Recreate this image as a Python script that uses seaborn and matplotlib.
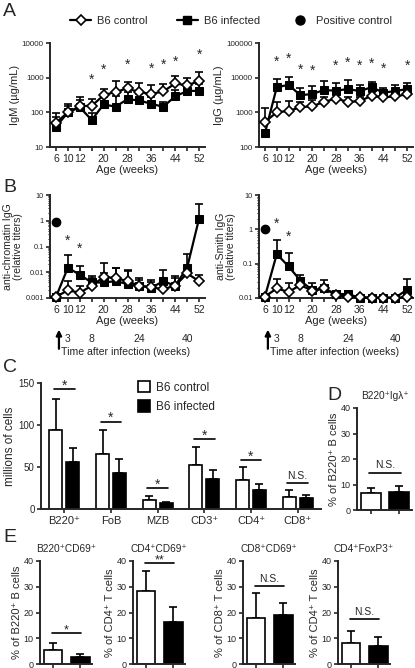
import numpy as np
import pandas as pd
import matplotlib
matplotlib.use("Agg")
import matplotlib.pyplot as plt
from matplotlib.lines import Line2D
from matplotlib.patches import Patch
from matplotlib.ticker import LogLocator, NullFormatter
import seaborn as sns

# ---- data ----
ages = [6, 10, 12, 16, 20, 24, 28, 32, 36, 40, 44, 48, 52]
age_labels = ["6", "10", "12", "", "20", "", "28", "", "36", "", "44", "", "52"]

igm_ctrl = [50, 100, 150, 155, 310, 390, 490, 380, 340, 400, 680, 600, 800]
igm_ctrl_hi = [95, 170, 270, 240, 480, 780, 760, 680, 600, 650, 1150, 1000, 1450]
igm_inf = [38, 100, 140, 60, 170, 145, 240, 220, 175, 145, 290, 410, 420]
igm_inf_hi = [75, 150, 230, 95, 280, 300, 380, 330, 280, 200, 450, 600, 650]
igm_star_idx = [3, 4, 6, 8, 9, 10, 12]
igm_star_y = [850, 1650, 2300, 1850, 2300, 2900, 4600]

igg_ctrl = [530, 1000, 1100, 1400, 1500, 2000, 2500, 2000, 2100, 3000, 2700, 2900, 3300]
igg_ctrl_hi = [1350, 2000, 2100, 2000, 2200, 2800, 3500, 2800, 2800, 3800, 3400, 3700, 4200]
igg_inf = [250, 5300, 6200, 3100, 3400, 4400, 4200, 4700, 4100, 5300, 3700, 4100, 4700]
igg_inf_hi = [250, 9000, 10500, 5000, 5600, 8000, 7100, 8700, 6200, 7300, 5000, 6200, 6800]
igg_star_idx = [1, 2, 3, 4, 6, 7, 8, 9, 10, 12]
igg_star_y = [29000, 35000, 16500, 16000, 22000, 26000, 22000, 25000, 17500, 22000]

chr_ctrl = [0.0011, 0.002, 0.0016, 0.003, 0.0065, 0.006, 0.0045, 0.003, 0.0026, 0.0022, 0.003, 0.009, 0.0045]
chr_ctrl_hi = [0.0011, 0.0045, 0.003, 0.006, 0.022, 0.014, 0.011, 0.005, 0.004, 0.004, 0.006, 0.012, 0.008]
chr_inf = [0.0011, 0.015, 0.008, 0.004, 0.004, 0.0045, 0.0035, 0.003, 0.0025, 0.0045, 0.003, 0.015, 1.2]
chr_inf_hi = [0.0011, 0.045, 0.018, 0.007, 0.009, 0.015, 0.012, 0.006, 0.005, 0.012, 0.007, 0.05, 4.5]
chr_star_idx = [1, 2]
chr_star_y = [0.17, 0.085]
chr_pos = 0.9

sm_ctrl = [0.011, 0.019, 0.015, 0.024, 0.016, 0.019, 0.012, 0.011, 0.0105, 0.0102, 0.0102, 0.0102, 0.0105]
sm_ctrl_hi = [0.011, 0.036, 0.027, 0.035, 0.016, 0.019, 0.012, 0.011, 0.0105, 0.0102, 0.0102, 0.0102, 0.0105]
sm_inf = [0.011, 0.19, 0.083, 0.032, 0.017, 0.019, 0.013, 0.013, 0.0102, 0.0102, 0.0102, 0.0102, 0.0175]
sm_inf_hi = [0.011, 0.5, 0.2, 0.048, 0.027, 0.034, 0.016, 0.016, 0.0102, 0.0102, 0.0102, 0.0102, 0.036]
sm_star_idx = [1, 2]
sm_star_y = [1.45, 0.62]
sm_pos = 1.0

time_idx = [1, 3, 7, 11]
time_labels = ["3", "8", "24", "40"]

cells = ["B220⁺", "FoB", "MZB", "CD3⁺", "CD4⁺", "CD8⁺"]
c_ctrl = [94, 66, 11, 52, 35, 14]
c_ctrl_hi = [131, 94, 16, 74, 50, 23]
c_inf = [56, 43, 7, 36, 23, 13]
c_inf_hi = [73, 59, 8, 47, 30, 17]
c_sig = ["*", "*", "*", "*", "*", "N.S."]
c_sig_y = [143, 104, 25, 83, 58, 31]

groups = ["B6 control", "B6 infected"]
pal = {"B6 control": "white", "B6 infected": "black"}

d_title = "B220⁺Igλ⁺"
d_ylabel = "% of B220⁺ B cells"
d_vals = [6.6, 7.2]
d_hi = [8.8, 9.6]
d_sig, d_sig_y = "N.S.", 14.7

e_titles = ["B220⁺CD69⁺", "CD4⁺CD69⁺", "CD8⁺CD69⁺", "CD4⁺FoxP3⁺"]
e_ylabels = ["% of B220⁺ B cells", "% of CD4⁺ T cells", "% of CD8⁺ T cells", "% of CD4⁺ T cells"]
e_vals = [[5.5, 2.8], [28.5, 16.5], [17.9, 19.2], [8.3, 7.0]]
e_hi = [[8.3, 3.8], [36.3, 22.2], [27.7, 23.6], [12.8, 10.3]]
e_sig = ["*", "**", "N.S.", "N.S."]
e_sig_y = [11.9, 39.4, 30.2, 17.4]

# ---- style ----
sns.set_theme(style="ticks")
plt.rcParams["font.family"] = ["Liberation Sans", "DejaVu Sans"]
plt.rcParams["axes.linewidth"] = 1.4
plt.rcParams["xtick.major.width"] = 1.2
plt.rcParams["ytick.major.width"] = 1.2
plt.rcParams["xtick.major.size"] = 3
plt.rcParams["ytick.major.size"] = 3
plt.rcParams["xtick.major.pad"] = 2
plt.rcParams["ytick.major.pad"] = 1.5

W, H = 415, 668
fig = plt.figure(figsize=(W / 100, H / 100), dpi=100)


def px_axes(x0, x1, y0, y1):
    return fig.add_axes([x0 / W, 1 - y1 / H, (x1 - x0) / W, (y1 - y0) / H])


def letter(x, y, s):
    fig.text(x / W, 1 - y / H, s, fontsize=14, ha="left", va="center")


def time_panel(ax, ctrl, ctrl_hi, inf, inf_hi, star_idx, star_y, ylim, ylabel, pos=None):
    x = np.arange(len(ages))
    ctrl = np.array(ctrl); inf = np.array(inf)
    ax.errorbar(x, inf, yerr=[np.zeros(len(x)), np.array(inf_hi) - inf], fmt="none",
                ecolor="black", elinewidth=1.2, capsize=3.2, capthick=1.2, zorder=2, clip_on=False)
    ax.errorbar(x, ctrl, yerr=[np.zeros(len(x)), np.array(ctrl_hi) - ctrl], fmt="none",
                ecolor="black", elinewidth=1.2, capsize=3.2, capthick=1.2, zorder=2, clip_on=False)
    sns.lineplot(x=x, y=inf, ax=ax, color="black", marker="s", markersize=5.5, linewidth=1.6,
                 markeredgecolor="black", zorder=3, clip_on=False)
    sns.lineplot(x=x, y=ctrl, ax=ax, color="black", marker="D", markersize=5, linewidth=1.6,
                 markerfacecolor="white", markeredgecolor="black", markeredgewidth=1.2,
                 zorder=4, clip_on=False)
    if pos is not None:
        ax.plot([0], [pos], "o", color="black", markersize=6, zorder=5)
    for i, yv in zip(star_idx, star_y):
        ax.text(i, yv, "*", ha="center", va="center", fontsize=10)
    ax.set_yscale("log")
    ax.set_ylim(*ylim)
    ax.set_xlim(-0.5, 12.5)
    ax.set_xticks(x)
    ax.set_xticklabels(age_labels, fontsize=7.5)
    ax.tick_params(axis="y", labelsize=5.8)
    ax.set_xlabel("Age (weeks)", fontsize=8, labelpad=1)
    ax.set_ylabel(ylabel, fontsize=8, labelpad=1.5, linespacing=1.05)
    sns.despine(ax=ax)


# ---- A ----
axA1 = px_axes(50, 205, 43, 147)
time_panel(axA1, igm_ctrl, igm_ctrl_hi, igm_inf, igm_inf_hi, igm_star_idx, igm_star_y,
           (10, 10000), "IgM (µg/mL)")
axA1.set_yticks([10, 100, 1000, 10000])
axA1.set_yticklabels(["10", "100", "1000", "10000"])
axA1.yaxis.set_minor_locator(plt.NullLocator())

axA2 = px_axes(259, 413, 43, 147)
time_panel(axA2, igg_ctrl, igg_ctrl_hi, igg_inf, igg_inf_hi, igg_star_idx, igg_star_y,
           (100, 100000), "IgG (µg/mL)")
axA2.set_yticks([100, 1000, 10000, 100000])
axA2.set_yticklabels(["100", "1000", "10000", "100000"])
axA2.yaxis.set_minor_locator(plt.NullLocator())

handles = [
    Line2D([0], [0], color="black", lw=1.6, marker="D", markersize=5,
           markerfacecolor="white", markeredgecolor="black", markeredgewidth=1.2),
    Line2D([0], [0], color="black", lw=1.6, marker="s", markersize=5.5),
    Line2D([0], [0], color="black", lw=0, marker="o", markersize=6.5),
]
fig.legend(handles, ["B6 control", "B6 infected", "Positive control"], loc="center",
           bbox_to_anchor=(0.557, 1 - 21 / H), ncol=3, frameon=False, fontsize=8,
           handlelength=1.9, columnspacing=2.6, handletextpad=0.55)

# ---- B ----
axB1 = px_axes(50, 205, 195, 298)
time_panel(axB1, chr_ctrl, chr_ctrl_hi, chr_inf, chr_inf_hi, chr_star_idx, chr_star_y,
           (0.001, 10), "anti-chromatin IgG\n(relative titers)", pos=chr_pos)
axB1.set_yticks([0.001, 0.01, 0.1, 1, 10])
axB1.set_yticklabels(["0.001", "0.01", "0.1", "1", "10"])

axB2 = px_axes(259, 413, 195, 298)
time_panel(axB2, sm_ctrl, sm_ctrl_hi, sm_inf, sm_inf_hi, sm_star_idx, sm_star_y,
           (0.01, 10), "anti-Smith IgG\n(relative titers)", pos=sm_pos)
axB2.set_yticks([0.01, 0.1, 1, 10])
axB2.set_yticklabels(["0.01", "0.1", "1", "10"])

for ax in (axB1, axB2):
    ax.tick_params(axis="y", labelsize=5.3)
    ax.yaxis.label.set_size(7.6)
    ax.yaxis.set_minor_locator(LogLocator(base=10, subs=np.arange(2, 10)))
    ax.yaxis.set_minor_formatter(NullFormatter())
    ax.tick_params(axis="y", which="minor", length=1.8, width=0.8)
    tr = ax.get_xaxis_transform()
    ax.annotate("", xy=(0.25, -0.28), xytext=(0.25, -0.52), xycoords=tr, textcoords=tr,
                arrowprops=dict(arrowstyle="-|>", color="black", lw=1.6, mutation_scale=8))
    for i, s in zip(time_idx, time_labels):
        ax.text(i, -0.40, s, transform=tr, ha="center", va="center", fontsize=7.5)
    ax.text(0.49, -0.52, "Time after infection (weeks)", transform=ax.transAxes,
            ha="center", va="center", fontsize=7.6)

# ---- C ----
axC = px_axes(41, 321, 383, 509)
df_c = pd.DataFrame({"cell": cells * 2,
                     "group": [groups[0]] * len(cells) + [groups[1]] * len(cells),
                     "value": c_ctrl + c_inf})
sns.barplot(data=df_c, x="cell", y="value", hue="group", hue_order=groups, palette=pal,
            edgecolor="black", linewidth=1.2, width=0.72, gap=0.22, errorbar=None,
            legend=False, ax=axC)
for cont, hi in zip(axC.containers, [c_ctrl_hi, c_inf_hi]):
    xs = [p.get_x() + p.get_width() / 2 for p in cont.patches]
    ys = np.array([p.get_height() for p in cont.patches])
    axC.errorbar(xs, ys, yerr=[np.zeros(len(ys)), np.array(hi) - ys], fmt="none",
                 ecolor="black", elinewidth=1.2, capsize=3.2, capthick=1.2, zorder=0)
for i, (s, yv) in enumerate(zip(c_sig, c_sig_y)):
    axC.plot([i - 0.22, i + 0.22], [yv, yv], color="black", lw=1.2)
    if s == "*":
        axC.text(i, yv + 4, s, ha="center", va="center", fontsize=10)
    else:
        axC.text(i, yv + 2, s, ha="center", va="bottom", fontsize=7.5)
axC.set_xlim(-0.5, 5.5)
axC.set_ylim(0, 150)
axC.set_yticks([0, 50, 100, 150])
axC.tick_params(axis="y", labelsize=7)
axC.tick_params(axis="x", labelsize=8)
axC.set_xlabel("")
axC.set_ylabel("millions of cells", fontsize=8.5, labelpad=2)
sns.despine(ax=axC)
axC.legend([Patch(facecolor="white", edgecolor="black", lw=1.2),
            Patch(facecolor="black", edgecolor="black", lw=1.2)], groups,
           loc="upper left", bbox_to_anchor=(0.31, 1.1), frameon=False, fontsize=8.5,
           handlelength=1.0, handleheight=1.1, labelspacing=0.55, handletextpad=0.5)


def small_bar(ax, vals, hi, sig, sig_y, title, ylabel):
    df = pd.DataFrame({"group": groups, "value": vals})
    sns.barplot(data=df, x="group", y="value", hue="group", hue_order=groups, palette=pal,
                edgecolor="black", linewidth=1.2, width=0.7, errorbar=None, legend=False, ax=ax)
    xs = [p.get_x() + p.get_width() / 2 for p in ax.patches]
    ys = np.array([p.get_height() for p in ax.patches])
    ax.errorbar(xs, ys, yerr=[np.zeros(len(ys)), np.array(hi) - ys], fmt="none",
                ecolor="black", elinewidth=1.2, capsize=3.2, capthick=1.2, zorder=0)
    ax.plot([-0.05, 1.05], [sig_y, sig_y], color="black", lw=1.2, clip_on=False)
    if sig.startswith("*"):
        ax.text(0.5, sig_y + 1.0, sig, ha="center", va="center", fontsize=9, clip_on=False)
    else:
        ax.text(0.5, sig_y + 1.0, sig, ha="center", va="bottom", fontsize=7.5)
    ax.set_xlim(-0.48, 1.44)
    ax.set_ylim(0, 40)
    ax.set_yticks([0, 10, 20, 30, 40])
    ax.set_xticklabels(["", ""])
    ax.set_xlabel("")
    ax.tick_params(axis="y", labelsize=6.5)
    ax.set_ylabel(ylabel, fontsize=8, labelpad=1)
    ax.set_title(title, fontsize=7.3, pad=6.5)
    sns.despine(ax=ax)


# ---- D ----
axD = px_axes(357, 412, 408, 510)
small_bar(axD, d_vals, d_hi, d_sig, d_sig_y, d_title, d_ylabel)

# ---- E ----
for x0, vals, hi, s, sy, t, yl in zip([40, 133, 243, 338], e_vals, e_hi, e_sig, e_sig_y,
                                      e_titles, e_ylabels):
    ax = px_axes(x0, x0 + 52, 561, 664)
    small_bar(ax, vals, hi, s, sy, t, yl)

letter(3, 11, "A")
letter(3, 187, "B")
letter(3, 367, "C")
letter(327, 395, "D")
letter(3, 537, "E")

fig.savefig("out.png", dpi=100)
